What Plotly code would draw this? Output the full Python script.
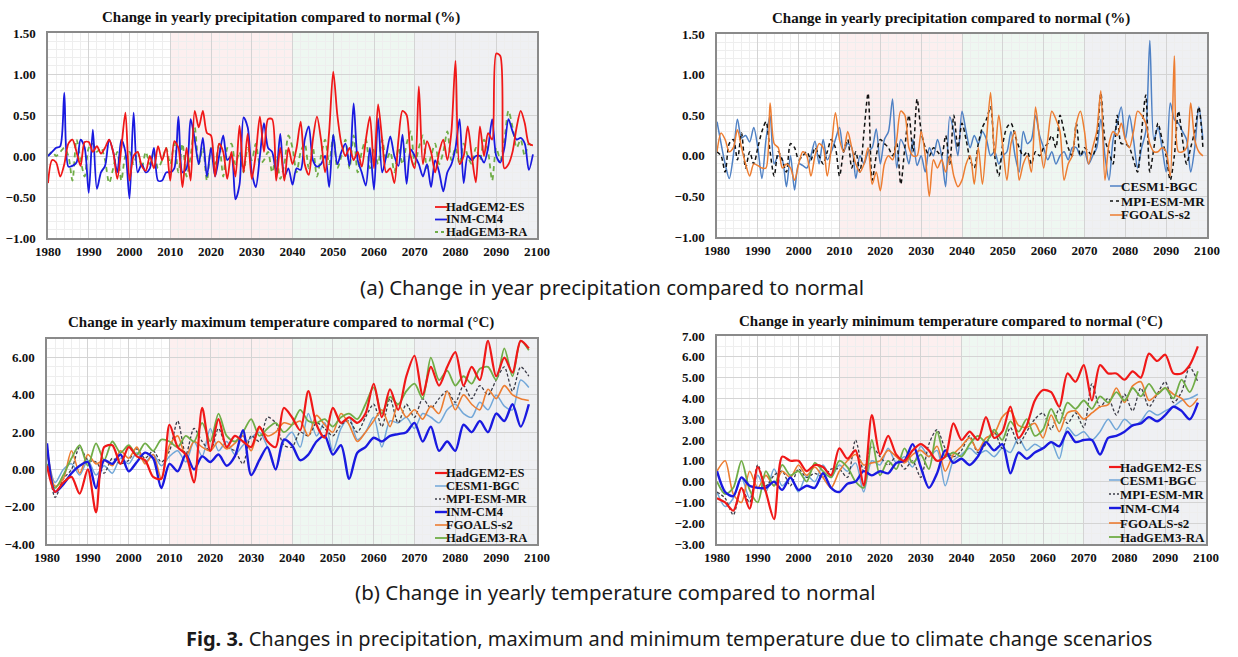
import plotly.graph_objects as go

W, H = 1238, 657

years_annual = list(range(1980, 2100))
years_biennial = list(range(1980, 2100, 2))

# ---------------- (a) left: precipitation change (%) ----------------
precL_HadGEM2_ES = [
    -0.33, -0.05, -0.08, -0.25, -0.10, 0.15, 0.20, 0.05, -0.12, 0.17,
    0.17, 0.05, 0.12, 0.03, 0.10, 0.20, 0.05, -0.28, 0.10, 0.53,
    -0.30, 0.00, 0.05, -0.12, -0.18, 0.00, -0.15, 0.12, -0.05, 0.10,
    -0.30, 0.18, 0.10, -0.38, 0.10, -0.30, 0.55, 0.35, 0.55, 0.28,
    0.25, -0.25, 0.15, 0.05, -0.28, 0.05, -0.25, 0.37, -0.20, 0.27,
    -0.28, 0.03, 0.48, 0.05, 0.45, 0.45, -0.30, 0.10, -0.30, 0.10,
    -0.10, 0.10, 0.42, -0.10, -0.23, 0.20, 0.48, 0.20, -0.20, 0.30,
    1.03, 0.50, 0.15, 0.00, 0.10, -0.05, 0.05, -0.13, 0.20, 0.48,
    -0.15, 0.63, 0.20, -0.20, -0.15, -0.33, 0.20, 0.55, 0.50, 0.00,
    -0.15, 0.85, -0.10, 0.18, 0.05, -0.20, 0.05, 0.20, -0.05, 0.30,
    1.16, -0.10, 0.00, 0.36, 0.00, -0.32, 0.36, 0.00, 0.28, 0.20,
    1.25, 1.22, -0.15, -0.10, 0.05, 0.35, 0.55, 0.40, 0.15, 0.13,
]
precL_INM_CM4 = [
    0.00, 0.05, 0.10, 0.12, 0.77, -0.13, -0.12, -0.08, 0.20, 0.10,
    -0.45, 0.32, -0.40, -0.20, -0.12, 0.20, 0.05, -0.20, 0.20, 0.05,
    -0.52, 0.53, -0.20, -0.10, -0.20, -0.15, 0.10, -0.30, -0.30, -0.20,
    -0.20, -0.15, 0.48, -0.20, -0.15, 0.45, 0.20, -0.10, 0.22, -0.25,
    0.10, -0.25, 0.00, 0.25, -0.05, 0.00, -0.53, -0.35, 0.47, 0.35,
    -0.20, -0.38, 0.00, 0.40, 0.10, 0.05, -0.20, 0.27, -0.25, -0.15,
    -0.35, -0.15, -0.17, 0.20, 0.36, -0.05, -0.13, -0.10, 0.00, -0.38,
    0.26, -0.10, 0.05, 0.15, -0.12, 0.64, -0.05, -0.20, -0.36, 0.10,
    -0.41, 0.46, -0.20, 0.00, 0.24, 0.00, -0.12, 0.26, -0.34, 0.08,
    0.00, -0.10, -0.25, -0.10, -0.38, -0.05, -0.20, -0.43, -0.20, -0.10,
    0.10, 0.45, -0.33, 0.00, -0.05, 0.00, 0.00, -0.08, 0.10, 0.45,
    0.00, -0.08, 0.10, 0.45, 0.30, 0.20, 0.22, 0.15, -0.17, 0.02,
]
precL_HadGEM3_RA = [
    0.00, 0.05, 0.00, 0.05, 0.10, 0.00, -0.30, 0.20, -0.05, -0.25,
    0.10, 0.15, 0.05, 0.10, -0.05, -0.33, -0.15, 0.05, -0.30, 0.00,
    0.05, -0.10, 0.05, -0.15, 0.05, -0.10, 0.05, -0.15, -0.05, 0.10,
    -0.10, 0.15, -0.20, 0.15, -0.25, 0.00, 0.35, -0.10, 0.10, -0.30,
    0.10, -0.10, 0.15, -0.25, 0.10, 0.15, -0.10, 0.05, -0.20, 0.10,
    -0.05, 0.15, -0.10, -0.05, 0.05, -0.20, 0.00, -0.28, -0.10, 0.25,
    0.10, -0.20, 0.05, 0.15, -0.15, 0.10, -0.25, 0.00, 0.20, -0.10,
    0.25, -0.15, 0.00, 0.20, -0.15, 0.25, -0.20, 0.05, 0.20, -0.15,
    0.10, -0.10, 0.20, -0.05, 0.05, -0.20, 0.10, -0.10, 0.15, 0.30,
    -0.10, 0.10, 0.25, -0.15, 0.00, 0.15, -0.10, 0.05, 0.30, -0.05,
    0.10, -0.10, 0.15, 0.00, -0.10, 0.10, -0.05, 0.20, 0.05, -0.30,
    0.10, -0.05, 0.20, 0.55, 0.35, 0.10, 0.20, 0.00, 0.15, 0.10,
]

# ---------------- (a) right: precipitation change (%) ----------------
precR_CESM1_BGC = [
    0.42, 0.15, -0.10, -0.28, 0.00, 0.45, 0.22, 0.25, 0.17, 0.35,
    0.10, -0.28, 0.20, 0.50, -0.10, 0.00, -0.05, -0.38, 0.00, -0.42,
    -0.10, -0.12, -0.15, 0.00, 0.18, -0.10, 0.20, -0.05, 0.05, 0.20,
    0.35, 0.05, 0.15, 0.10, -0.28, 0.00, -0.10, 0.05, 0.10, 0.33,
    -0.10, 0.20, 0.30, 0.70, -0.15, 0.20, 0.10, -0.10, 0.20, -0.12,
    0.00, -0.20, 0.10, 0.00, 0.20, 0.00, -0.38, 0.48, 0.30, 0.00,
    0.55, 0.30, 0.10, 0.25, 0.15, 0.30, 0.20, 0.00, 0.05, -0.10,
    0.00, 0.05, 0.30, 0.00, -0.20, 0.30, 0.15, 0.20, 0.50, 0.25,
    0.10, -0.05, 0.05, -0.10, 0.00, 0.05, -0.05, 0.10, 0.10, 0.00,
    0.05, -0.10, 0.00, 0.10, 0.45, 0.00, -0.30, 0.20, 0.40, 0.60,
    0.20, 0.50, 0.20, -0.15, 0.10, 0.30, 1.42, 0.20, 0.35, 0.10,
    -0.20, 0.65, 0.45, 0.40, 0.30, 0.20, -0.20, 0.10, 0.60, 0.20,
]
precR_MPI_ESM_MR = [
    0.05, 0.00, -0.20, 0.15, 0.20, -0.05, 0.28, -0.15, 0.05, -0.10,
    0.10, 0.30, 0.42, 0.05, -0.25, 0.05, -0.05, -0.20, 0.15, 0.10,
    -0.05, 0.00, 0.05, -0.05, 0.10, 0.00, -0.10, 0.05, 0.20, 0.10,
    -0.25, 0.05, 0.20, -0.15, 0.05, -0.20, 0.30, 0.77, -0.30, 0.00,
    0.20, 0.15, 0.10, 0.00, 0.15, -0.35, 0.10, 0.50, 0.05, 0.70,
    0.30, 0.10, 0.00, 0.10, 0.05, 0.00, 0.25, -0.10, 0.50, 0.10,
    0.40, 0.20, -0.05, -0.15, 0.15, 0.35, 0.45, 0.60, 0.00, -0.25,
    0.15, 0.35, 0.40, 0.25, 0.10, 0.00, 0.05, -0.10, 0.05, 0.00,
    0.10, 0.15, 0.25, 0.10, 0.50, 0.30, 0.10, 0.00, 0.40, 0.00,
    0.10, 0.05, 0.00, 0.20, 0.77, 0.20, 0.05, -0.10, 0.50, 0.15,
    0.15, 0.10, -0.05, -0.20, 0.30, 0.75, -0.20, 0.10, 0.40, 0.20,
    0.00, -0.30, 0.00, 0.55, 0.20, -0.10, 0.10, 0.30, 0.60, 0.10,
]
precR_FGOALS_s2 = [
    0.05, 0.28, 0.20, 0.05, 0.10, 0.32, 0.10, -0.10, -0.25, -0.10,
    -0.12, -0.15, -0.15, 0.65, 0.15, 0.10, -0.15, -0.10, -0.15, -0.30,
    -0.10, 0.05, 0.00, -0.25, 0.00, 0.15, 0.10, -0.25, 0.10, 0.53,
    0.20, 0.05, 0.30, 0.10, -0.10, -0.20, -0.10, 0.10, -0.35, -0.20,
    -0.43, -0.10, 0.00, -0.05, 0.20, 0.55, 0.50, 0.10, 0.00, 0.00,
    0.30, 0.00, -0.50, -0.05, -0.15, -0.05, -0.20, 0.00, -0.25, -0.38,
    -0.30, -0.10, 0.00, -0.35, 0.10, -0.35, 0.20, 0.78, 0.00, 0.50,
    0.10, -0.30, 0.15, 0.30, -0.30, -0.10, 0.00, -0.20, 0.60, 0.20,
    -0.15, 0.20, 0.55, 0.45, 0.30, -0.30, -0.10, 0.00, 0.40, 0.55,
    0.30, -0.10, 0.10, 0.30, 0.80, -0.30, 0.15, 0.30, 0.25, 0.40,
    0.20, 0.10, 0.30, 0.55, 0.50, 0.40, 0.15, 0.05, 0.05, 0.10,
    0.05, -0.25, 1.23, 0.05, 0.05, 0.10, 0.65, 0.20, 0.05, 0.00,
]

# ---------------- (b) left: yearly maximum temperature change (°C), every 2 years ----------------
tmax_HadGEM2_ES = [
    0.2, -1.2, -0.7, -0.4, -1.3, 0.0, -2.3, 1.2, 1.3, 0.3,
    1.2, 0.7, 0.5, -0.4, -0.5, 2.4, 1.2, 0.8, -0.7, 3.3,
    1.0, 2.7, 1.2, 1.8, 1.5, 1.2, 2.3, 1.5, 1.2, 3.3,
    2.8, 2.1, 4.2, 2.4, 1.7, 3.3, 2.5, 2.8, 2.5, 3.0,
    4.6, 2.8, 4.3, 3.2, 5.0, 6.1, 4.0, 5.5, 4.5, 5.5,
    6.3, 4.5, 5.5, 4.8, 6.9, 5.0, 6.0, 5.2, 6.9, 6.5,
]
tmax_CESM1_BGC = [
    1.0, -0.7, 0.0, 0.3, -0.3, 0.5, -0.3, 0.2, -0.2, 0.6,
    0.3, 0.9, 0.4, 0.8, 0.2, 0.7, 1.0, 0.4, 1.5, 0.7,
    2.2, 1.0, 1.5, 0.8, 1.3, 1.7, 2.0, 1.2, 0.0, 1.5,
    2.0, 1.2, 3.0, 1.8, 2.5, 1.0, 2.2, 2.8, 1.6, 2.0,
    2.8, 1.2, 2.6, 2.5, 2.8, 2.2, 3.0, 2.8, 2.5, 3.2,
    3.5, 3.0, 2.8, 3.6, 3.2, 4.0, 3.4, 3.2, 4.8, 4.4,
]
tmax_MPI_ESM_MR = [
    1.2, -1.5, -0.5, 0.0, 1.2, 0.5, 0.4, -0.2, 0.6, 0.3,
    0.5, 1.1, 0.6, 1.0, 0.4, 1.0, 2.6, 0.8, 2.2, 1.5,
    1.0, 2.2, 1.2, 1.0, 0.3, 1.8, 1.5, 2.8, 2.5, 1.3,
    1.2, 2.0, 1.8, 2.5, 2.2, 1.8, 2.4, 2.6, 2.0, 2.8,
    3.5, 2.3, 3.8, 2.5, 3.5, 2.8, 3.8, 3.3, 3.8, 4.2,
    3.6, 4.5, 3.8, 4.5, 4.0, 4.8, 5.5, 4.2, 5.5, 5.0,
]
tmax_INM_CM4 = [
    1.4, -1.2, -0.8, -0.2, 0.2, 0.4, -1.0, 0.5, 0.3, 0.8,
    -0.1, 0.4, 0.9, 0.6, -1.0, 0.3, -0.1, 0.8, 0.0, 0.7,
    0.4, 0.8, 0.2, 0.7, 2.1, -0.3, 0.5, 1.2, 0.0, 1.6,
    1.3, 0.5, 0.8, 1.5, 1.8, 0.8, 1.3, -0.5, 0.9, 1.2,
    1.7, 1.5, 1.8, 1.9, 2.0, 2.5, 1.5, 2.3, 1.0, 1.5,
    1.0, 2.4, 2.0, 2.6, 2.0, 3.0, 2.6, 3.5, 2.3, 3.5,
]
tmax_FGOALS_s2 = [
    1.2, -0.9, -0.5, 1.0, -0.2, 0.8, 0.3, 0.5, 0.2, 1.0,
    0.6, 1.2, 0.3, 0.8, -0.5, 1.3, 1.8, 0.7, 1.5, 1.2,
    1.0, 1.5, 1.1, 1.4, 1.8, 1.0, 2.2, 1.8, 2.0, 2.5,
    2.4, 2.6, 1.8, 2.9, 2.4, 2.0, 3.0, 2.4, 1.5, 2.0,
    2.6, 3.2, 2.3, 3.5, 2.8, 3.2, 2.7, 3.4, 3.0, 4.2,
    3.2, 4.0, 3.5, 3.2, 4.3, 3.8, 4.5, 4.0, 3.8, 3.7,
]
tmax_HadGEM3_RA = [
    0.3, -1.0, -0.3, 0.6, 1.3, 0.2, 1.4, 0.5, 1.5, 0.9,
    1.3, 0.8, 1.4, 1.0, 1.6, 1.5, 1.2, 1.8, 1.5, 2.5,
    1.5, 3.0, 1.8, 1.5, 2.0, 2.7, 1.8, 2.2, 2.5, 2.0,
    2.4, 3.2, 2.6, 2.5, 2.7, 2.3, 2.8, 3.0, 2.7, 3.5,
    4.4, 3.0, 3.9, 3.5, 4.2, 4.6, 3.8, 6.0, 4.8, 5.3,
    4.5, 5.0, 4.6, 5.4, 5.5, 4.8, 6.5, 5.0, 6.9, 6.4,
]

# ---------------- (b) right: yearly minimum temperature change (°C), every 2 years ----------------
tmin_HadGEM2_ES = [
    -0.8, -1.0, -1.4, -0.3, -1.3, 0.7, -0.5, -1.8, 1.2, 1.0,
    1.0, 0.5, 0.8, 0.7, 0.3, 1.6, 1.1, 1.5, -0.2, 3.2,
    1.3, 2.2, 1.3, 1.0, 1.5, 1.8, 1.5, 1.0, 1.2, 2.8,
    2.0, 2.4, 2.0, 3.1, 2.1, 2.4, 3.6, 2.1, 2.7, 3.9,
    4.4, 4.3, 3.6, 5.2, 4.8, 5.6, 3.9, 5.6, 5.2, 5.2,
    4.9, 5.3, 5.0, 6.15, 5.8, 6.1, 5.2, 5.2, 5.6, 6.5,
]
tmin_CESM1_BGC = [
    -0.5, -1.2, -0.8, 0.2, -0.8, 0.3, -0.5, 0.6, -0.2, 0.2,
    -0.5, 0.3, 0.0, 0.8, 0.2, 0.8, 0.5, 0.9, -0.5, 1.0,
    0.8, 1.6, 0.9, 1.2, 0.7, 1.7, 1.2, 1.5, -0.2, 1.0,
    1.3, 1.6, 1.3, 1.5, 1.2, 1.6, 1.4, 2.1, 1.5, 1.8,
    1.6, 1.9, 1.1, 2.6, 2.2, 2.4, 2.0, 2.4, 3.0, 2.5,
    3.0, 2.7, 2.9, 3.4, 3.2, 3.4, 3.6, 3.9, 4.0, 4.2,
]
tmin_MPI_ESM_MR = [
    -0.5, -0.8, -1.6, -0.3, -1.0, 0.8, -0.2, 0.3, 0.5, -0.2,
    0.6, 0.2, 0.4, 0.2, 0.6, 0.6, 0.2, 2.0, 0.5, 1.7,
    1.2, 0.8, 1.2, 0.6, 1.0, 0.2, 1.8, 2.5, 1.6, 1.2,
    1.5, 2.2, 1.4, 1.8, 2.4, 1.6, 2.6, 1.8, 2.4, 3.0,
    3.3, 2.5, 3.5, 2.8, 3.3, 2.6, 4.7, 3.6, 4.0, 3.2,
    4.2, 3.4, 4.5, 3.6, 4.2, 4.8, 3.8, 4.3, 5.5, 4.8,
]
tmin_INM_CM4 = [
    0.5, -0.5, -0.7, 0.2, -0.2, -0.3, -0.3, 0.0, -0.4, 0.2,
    -0.4, -0.2, -0.3, 0.4, -0.3, -0.5, -0.1, 0.0, 0.5, 0.3,
    0.5, 0.4, 0.9, 1.0, 1.8, 0.7, -0.3, 0.4, 1.5, 0.9,
    1.1, 0.8, 1.2, 1.9, 1.5, 1.8, 0.4, 1.4, 1.1, 1.4,
    1.6, 1.9, 1.7, 2.4, 1.9, 2.0, 2.0, 1.3, 2.1, 2.2,
    2.4, 2.7, 2.8, 3.1, 2.9, 3.2, 3.6, 3.4, 3.0, 3.8,
]
tmin_FGOALS_s2 = [
    0.5, 1.0, -0.6, -1.0, 0.5, -0.3, 0.3, -0.2, 0.5, 0.2,
    0.8, 0.3, 0.7, 0.2, -0.3, 0.5, 1.0, 1.3, 0.8, 0.9,
    1.0, 1.5, 1.2, 0.9, 1.3, 1.5, 1.2, 1.7, 0.5, 1.3,
    1.7, 2.1, 1.5, 2.1, 2.3, 3.1, 3.4, 2.7, 2.6, 2.8,
    2.1, 3.2, 2.4, 3.3, 3.4, 3.0, 3.3, 3.6, 3.7, 4.5,
    3.8, 4.6, 4.8, 3.9, 4.2, 4.5, 4.2, 4.0, 3.6, 4.0,
]
tmin_HadGEM3_RA = [
    0.0, -0.6, -0.3, 1.0, -0.4, -1.0, 0.5, -0.2, 0.8, 0.3,
    0.5, 0.0, 0.9, 0.5, 0.2, 1.0, 0.7, 0.0, -0.3, 2.0,
    0.3, 1.0, 0.6, 1.6, 0.9, 1.3, 0.6, 2.4, 1.2, 1.4,
    1.2, 1.8, 2.2, 1.9, 2.5, 2.0, 2.9, 2.4, 3.0, 2.2,
    2.5, 3.5, 2.8, 3.8, 3.5, 3.9, 3.5, 4.1, 3.8, 4.3,
    3.9, 4.5, 4.1, 4.7, 4.2, 4.5, 4.0, 4.9, 4.3, 5.3,
]

for s in (precL_HadGEM2_ES, precL_INM_CM4, precL_HadGEM3_RA,
          precR_CESM1_BGC, precR_MPI_ESM_MR, precR_FGOALS_s2):
    assert len(s) == len(years_annual), len(s)
for s in (tmax_HadGEM2_ES, tmax_CESM1_BGC, tmax_MPI_ESM_MR, tmax_INM_CM4, tmax_FGOALS_s2, tmax_HadGEM3_RA,
          tmin_HadGEM2_ES, tmin_CESM1_BGC, tmin_MPI_ESM_MR, tmin_INM_CM4, tmin_FGOALS_s2, tmin_HadGEM3_RA):
    assert len(s) == len(years_biennial), len(s)

# ---------------- styling ----------------
RED = "#f01818"
BLUE = "#1a1ae0"
GREEN = "#70ad47"
STEEL = "#4f81c4"
LIGHTBLUE = "#72a7d8"
ORANGE = "#ed7d31"
BLACK = "#111111"
DARKGRAY = "#3c3c48"

SERIF = "Liberation Serif"
SANS = "Noto Sans"


def pxx(p):
    return p / W


def pxy(p):
    return 1 - p / H


fig = go.Figure()

panels = [
    # id, x-pixels, y-pixels, y-range, y-dtick, y-minor, title, title-center-x, title-y
    ("", (48, 537), (33, 238), (-1.0, 1.5), 0.5, 0.1,
     "Change in yearly precipitation compared to normal (%)", 281, 17),
    ("2", (717, 1207), (34, 237), (-1.0, 1.5), 0.5, 0.1,
     "Change in yearly precipitation compared to normal (%)", 951, 19),
    ("3", (47, 537), (339, 544), (-4.0, 7.0), 2.0, 0.5,
     "Change in yearly maximum temperature compared to normal (°C)", 281, 322),
    ("4", (717, 1206), (336, 544), (-3.0, 7.0), 1.0, 0.5,
     "Change in yearly minimum temperature compared to normal (°C)", 951, 321),
]

tickfont = dict(family=SERIF, size=13, color="#111111", weight="bold")

for pid, (xl, xr), (yt, yb), yrange, ydt, ymin, title, tcx, tcy in panels:
    xa = "xaxis" + pid
    ya = "yaxis" + pid
    fig.layout[xa] = dict(
        domain=[pxx(xl), pxx(xr)], anchor="y" + pid, range=[1980, 2100],
        tick0=1980, dtick=10, tickfont=tickfont, ticks="", automargin=False,
        showgrid=True, gridcolor="#d4d4d4", gridwidth=1,
        minor=dict(dtick=2, showgrid=True, gridcolor="#eeeeee", gridwidth=1),
        showline=True, mirror=True, linecolor="#8a8a8a", linewidth=1.5,
        zeroline=False, ticklabelstandoff=1,
    )
    fig.layout[ya] = dict(
        domain=[pxy(yb), pxy(yt)], anchor="x" + pid, range=list(yrange),
        tick0=yrange[0], dtick=ydt, tickformat=".2f", tickfont=tickfont, ticks="",
        automargin=False,
        showgrid=True, gridcolor="#d4d4d4", gridwidth=1,
        minor=dict(dtick=ymin, showgrid=True, gridcolor="#eeeeee", gridwidth=1),
        showline=True, mirror=True, linecolor="#8a8a8a", linewidth=1.5,
        zeroline=False, ticklabelstandoff=8,
    )
    # scenario period shading
    for (a, b, col) in ((2010, 2040, "#fcefef"), (2040, 2070, "#eef7f1"), (2070, 2100, "#eff0f3")):
        fig.add_shape(type="rect", xref="x" + pid, yref="y" + pid + " domain",
                      x0=a, x1=b, y0=0, y1=1, fillcolor=col, line=dict(width=0), layer="below")
    fig.add_annotation(xref="paper", yref="paper", x=pxx(tcx), y=pxy(tcy), text=title,
                       showarrow=False, xanchor="center", yanchor="middle",
                       font=dict(family=SERIF, size=15, color="#111111", weight="bold"))


def line(x, y, name, color, pid, width=1.8, dash="solid"):
    fig.add_trace(go.Scatter(
        x=x, y=y, name=name, mode="lines", showlegend=False,
        line=dict(color=color, width=width, dash=dash, shape="spline", smoothing=0.8),
        xaxis="x" + pid, yaxis="y" + pid,
    ))


# (a) left
line(years_annual, precL_HadGEM3_RA, "HadGEM3-RA", GREEN, "", 1.8, "5px,4px")
line(years_annual, precL_INM_CM4, "INM-CM4", BLUE, "", 1.8)
line(years_annual, precL_HadGEM2_ES, "HadGEM2-ES", RED, "", 1.8)
# (a) right
line(years_annual, precR_CESM1_BGC, "CESM1-BGC", STEEL, "2", 1.5)
line(years_annual, precR_MPI_ESM_MR, "MPI-ESM-MR", BLACK, "2", 1.5, "4px,3px")
line(years_annual, precR_FGOALS_s2, "FGOALS-s2", ORANGE, "2", 1.5)
# (b) left
line(years_biennial, tmax_CESM1_BGC, "CESM1-BGC", LIGHTBLUE, "3", 1.5)
line(years_biennial, tmax_MPI_ESM_MR, "MPI-ESM-MR", DARKGRAY, "3", 1.3, "3px,2px")
line(years_biennial, tmax_FGOALS_s2, "FGOALS-s2", ORANGE, "3", 1.6)
line(years_biennial, tmax_HadGEM3_RA, "HadGEM3-RA", GREEN, "3", 1.8)
line(years_biennial, tmax_INM_CM4, "INM-CM4", BLUE, "3", 2.4)
line(years_biennial, tmax_HadGEM2_ES, "HadGEM2-ES", RED, "3", 2.2)
# (b) right
line(years_biennial, tmin_CESM1_BGC, "CESM1-BGC", LIGHTBLUE, "4", 1.5)
line(years_biennial, tmin_MPI_ESM_MR, "MPI-ESM-MR", DARKGRAY, "4", 1.3, "3px,2px")
line(years_biennial, tmin_FGOALS_s2, "FGOALS-s2", ORANGE, "4", 1.6)
line(years_biennial, tmin_HadGEM3_RA, "HadGEM3-RA", GREEN, "4", 1.8)
line(years_biennial, tmin_INM_CM4, "INM-CM4", BLUE, "4", 2.4)
line(years_biennial, tmin_HadGEM2_ES, "HadGEM2-ES", RED, "4", 2.2)


# compact in-plot legends (short line sample + bold serif label)
def add_legend(entries, x0, rows, size=13):
    for (name, color, dash, width), yy in zip(entries, rows):
        fig.add_shape(type="line", xref="paper", yref="paper",
                      x0=pxx(x0), x1=pxx(x0 + 12), y0=pxy(yy), y1=pxy(yy),
                      line=dict(color=color, width=width, dash=dash))
        fig.add_annotation(xref="paper", yref="paper", x=pxx(x0 + 12), y=pxy(yy),
                           text=name, showarrow=False, xanchor="left", yanchor="middle",
                           xshift=-2, borderpad=0,
                           font=dict(family=SERIF, size=size, color="#111111", weight="bold"))


add_legend([("HadGEM2-ES", RED, "solid", 1.8),
            ("INM-CM4", BLUE, "solid", 1.8),
            ("HadGEM3-RA", GREEN, "3px,3px", 1.8)], 435, [207, 219.5, 232], size=12.5)
add_legend([("CESM1-BGC", STEEL, "solid", 1.5),
            ("MPI-ESM-MR", BLACK, "3px,3px", 1.5),
            ("FGOALS-s2", ORANGE, "solid", 1.5)], 1110, [186, 201, 215])
tentries = [("HadGEM2-ES", RED, "solid", 2.2),
            ("CESM1-BGC", LIGHTBLUE, "solid", 1.5),
            ("MPI-ESM-MR", DARKGRAY, "2px,2px", 1.3),
            ("INM-CM4", BLUE, "solid", 2.4),
            ("FGOALS-s2", ORANGE, "solid", 1.6),
            ("HadGEM3-RA", GREEN, "solid", 1.8)]
add_legend(tentries, 435, [473, 486, 499, 512, 525, 538], size=12.5)
add_legend(tentries, 1109, [467, 480, 494, 508, 523, 537])

# captions
capfont = dict(family=SANS, size=20.5, color="#1a1a1a")
fig.add_annotation(xref="paper", yref="paper", x=pxx(612), y=pxy(287),
                   text="(a) Change in year precipitation compared to normal",
                   showarrow=False, xanchor="center", yanchor="middle", font=capfont)
fig.add_annotation(xref="paper", yref="paper", x=pxx(615), y=pxy(592),
                   text="(b) Change in yearly temperature compared to normal",
                   showarrow=False, xanchor="center", yanchor="middle", font=capfont)
fig.add_annotation(xref="paper", yref="paper", x=pxx(669), y=pxy(638),
                   text="<b>Fig. 3.</b> Changes in precipitation, maximum and minimum temperature due to climate change scenarios",
                   showarrow=False, xanchor="center", yanchor="middle",
                   font=dict(family=SANS, size=20, color="#1a1a1a"))

fig.update_layout(
    width=W, height=H,
    margin=dict(l=0, r=0, t=0, b=0),
    paper_bgcolor="white", plot_bgcolor="white",
    showlegend=False,
)

fig.write_html("out.html", config={"displayModeBar": False},
               post_script="document.body.style.margin='0';document.body.style.overflow='hidden';")
